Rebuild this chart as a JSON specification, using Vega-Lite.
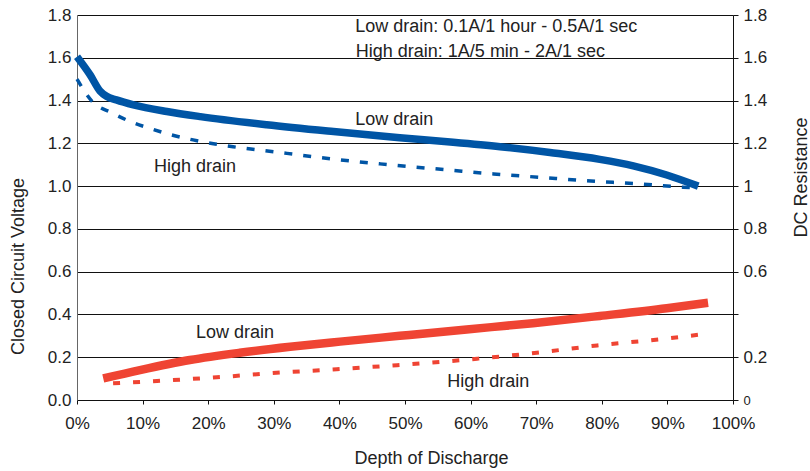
{
  "$schema": "https://vega.github.io/schema/vega-lite/v6.json",
  "width": 656,
  "height": 385,
  "autosize": {"type": "none"},
  "padding": {"left": 77, "top": 15, "right": 77, "bottom": 71},
  "background": "white",
  "config": {
    "font": "Liberation Sans",
    "view": {"stroke": null},
    "axis": {
      "labelFont": "Liberation Sans",
      "titleFont": "Liberation Sans",
      "labelColor": "#222222",
      "titleColor": "#222222",
      "titleFontWeight": "normal",
      "labelFontSize": 17,
      "titleFontSize": 18
    }
  },
  "datasets": {
    "curves": [
      {"series": "ccv_low", "dod": 0, "value": 1.605},
      {"series": "ccv_low", "dod": 2, "value": 1.52},
      {"series": "ccv_low", "dod": 3.5, "value": 1.445},
      {"series": "ccv_low", "dod": 4.5, "value": 1.42},
      {"series": "ccv_low", "dod": 6, "value": 1.403},
      {"series": "ccv_low", "dod": 8.6, "value": 1.38},
      {"series": "ccv_low", "dod": 13.7, "value": 1.349},
      {"series": "ccv_low", "dod": 18.8, "value": 1.325},
      {"series": "ccv_low", "dod": 28.9, "value": 1.287},
      {"series": "ccv_low", "dod": 39.1, "value": 1.255},
      {"series": "ccv_low", "dod": 49.2, "value": 1.226},
      {"series": "ccv_low", "dod": 56.9, "value": 1.206},
      {"series": "ccv_low", "dod": 64.5, "value": 1.184},
      {"series": "ccv_low", "dod": 72.1, "value": 1.157},
      {"series": "ccv_low", "dod": 79.7, "value": 1.125},
      {"series": "ccv_low", "dod": 84.8, "value": 1.095},
      {"series": "ccv_low", "dod": 89.9, "value": 1.052},
      {"series": "ccv_low", "dod": 94.7, "value": 1.0},
      {"series": "ccv_high", "dod": 0, "value": 1.50},
      {"series": "ccv_high", "dod": 2.2, "value": 1.40},
      {"series": "ccv_high", "dod": 5.5, "value": 1.34},
      {"series": "ccv_high", "dod": 8.1, "value": 1.302},
      {"series": "ccv_high", "dod": 11.1, "value": 1.27},
      {"series": "ccv_high", "dod": 14.2, "value": 1.241},
      {"series": "ccv_high", "dod": 17.7, "value": 1.216},
      {"series": "ccv_high", "dod": 20.8, "value": 1.198},
      {"series": "ccv_high", "dod": 23.8, "value": 1.184},
      {"series": "ccv_high", "dod": 27.4, "value": 1.17},
      {"series": "ccv_high", "dod": 32, "value": 1.153},
      {"series": "ccv_high", "dod": 39.1, "value": 1.126},
      {"series": "ccv_high", "dod": 46.2, "value": 1.104},
      {"series": "ccv_high", "dod": 56.4, "value": 1.076},
      {"series": "ccv_high", "dod": 63.5, "value": 1.057},
      {"series": "ccv_high", "dod": 70.6, "value": 1.041},
      {"series": "ccv_high", "dod": 77.7, "value": 1.025},
      {"series": "ccv_high", "dod": 85.8, "value": 1.01},
      {"series": "ccv_high", "dod": 92.4, "value": 0.995},
      {"series": "ccv_high", "dod": 95, "value": 0.99},
      {"series": "res_low", "dod": 4, "value": 0.101},
      {"series": "res_low", "dod": 9.6, "value": 0.14},
      {"series": "res_low", "dod": 17.2, "value": 0.187},
      {"series": "res_low", "dod": 24.8, "value": 0.221},
      {"series": "res_low", "dod": 32.5, "value": 0.249},
      {"series": "res_low", "dod": 40.1, "value": 0.273},
      {"series": "res_low", "dod": 49.2, "value": 0.3},
      {"series": "res_low", "dod": 59.4, "value": 0.33},
      {"series": "res_low", "dod": 69.5, "value": 0.359},
      {"series": "res_low", "dod": 79.7, "value": 0.393},
      {"series": "res_low", "dod": 89.9, "value": 0.429},
      {"series": "res_low", "dod": 96.2, "value": 0.455},
      {"series": "res_high", "dod": 5.5, "value": 0.078},
      {"series": "res_high", "dod": 12.2, "value": 0.089},
      {"series": "res_high", "dod": 21.3, "value": 0.106},
      {"series": "res_high", "dod": 30.4, "value": 0.127},
      {"series": "res_high", "dod": 39.6, "value": 0.144},
      {"series": "res_high", "dod": 48.8, "value": 0.163},
      {"series": "res_high", "dod": 61, "value": 0.193},
      {"series": "res_high", "dod": 70.1, "value": 0.221},
      {"series": "res_high", "dod": 79.3, "value": 0.255},
      {"series": "res_high", "dod": 88.9, "value": 0.284},
      {"series": "res_high", "dod": 95.3, "value": 0.307}
    ],
    "notes": [
      {"label": "Low drain: 0.1A/1 hour - 0.5A/1 sec", "x": 42.4, "y": 1.7205},
      {"label": "High drain: 1A/5 min - 2A/1 sec", "x": 42.5, "y": 1.6036},
      {"label": "Low drain", "x": 42.4, "y": 1.2857},
      {"label": "High drain", "x": 11.74, "y": 1.066},
      {"label": "Low drain", "x": 18.14, "y": 0.2899},
      {"label": "High drain", "x": 56.45, "y": 0.0608}
    ]
  },
  "layer": [
    {
      "data": {"name": "curves"},
      "transform": [{"filter": "datum.series == 'ccv_low'"}],
      "mark": {"type": "line", "interpolate": "monotone", "color": "#0055a5", "strokeWidth": 7.5},
      "encoding": {
        "x": {
          "field": "dod", "type": "quantitative",
          "scale": {"domain": [0, 100], "nice": false},
          "axis": {
            "orient": "bottom",
            "values": [0, 5, 10, 15, 20, 25, 30, 35, 40, 45, 50, 55, 60, 65, 70, 75, 80, 85, 90, 95, 100],
            "labelExpr": "datum.value % 10 == 0 ? datum.value + '%' : ''",
            "labelFlush": false,
            "labelOverlap": false,
            "labelBound": false,
            "grid": false,
            "domainColor": "#111111",
            "tickColor": "#111111",
            "tickSize": 4,
            "labelPadding": 11,
            "title": "Depth of Discharge",
            "titleX": 354,
            "titleY": 63,
            "titleBaseline": "alphabetic"
          }
        },
        "y": {
          "field": "value", "type": "quantitative",
          "scale": {"domain": [0, 1.8], "nice": false, "zero": false},
          "axis": {
            "orient": "left",
            "values": [0, 0.2, 0.4, 0.6, 0.8, 1.0, 1.2, 1.4, 1.6, 1.8],
            "format": ".1f",
            "grid": true,
            "gridColor": "#111111",
            "gridWidth": 1,
            "gridOpacity": 1,
            "ticks": false,
            "tickSize": 0,
            "domainColor": "#666666",
            "labelPadding": 6,
            "labelOverlap": false,
            "labelBound": false,
            "title": "Closed Circuit Voltage",
            "titleAngle": 270,
            "titleX": -54,
            "titleY": 251,
            "titleAlign": "center",
            "titleBaseline": "alphabetic"
          }
        }
      }
    },
    {
      "data": {"name": "curves"},
      "transform": [{"filter": "datum.series == 'ccv_high'"}],
      "mark": {"type": "line", "interpolate": "monotone", "color": "#0055a5", "strokeWidth": 3.5, "strokeDash": [8, 11]},
      "encoding": {
        "x": {"field": "dod", "type": "quantitative"},
        "y": {"field": "value", "type": "quantitative", "axis": null}
      }
    },
    {
      "data": {"name": "curves"},
      "transform": [{"filter": "datum.series == 'res_low'"}],
      "mark": {"type": "line", "interpolate": "monotone", "color": "#ef4433", "strokeWidth": 8.5},
      "encoding": {
        "x": {"field": "dod", "type": "quantitative"},
        "y": {"field": "value", "type": "quantitative", "axis": null}
      }
    },
    {
      "data": {"name": "curves"},
      "transform": [{"filter": "datum.series == 'res_high'"}],
      "mark": {"type": "line", "interpolate": "monotone", "color": "#ef4433", "strokeWidth": 4, "strokeDash": [7, 13]},
      "encoding": {
        "x": {"field": "dod", "type": "quantitative"},
        "y": {"field": "value", "type": "quantitative", "axis": null}
      }
    },
    {
      "data": {"name": "notes"},
      "mark": {"type": "text", "align": "left", "baseline": "alphabetic", "fontSize": 18, "font": "Liberation Sans", "color": "#222222"},
      "encoding": {
        "x": {"field": "x", "type": "quantitative"},
        "y": {
          "field": "y", "type": "quantitative",
          "axis": {
            "orient": "right",
            "values": [0, 0.2, 0.4, 0.6, 0.8, 1.0, 1.2, 1.4, 1.6, 1.8],
            "labelExpr": "datum.value == 0.4 ? '' : (datum.value == 0 ? '0' : format(datum.value, '.1~f'))",
            "labelFontSize": {"condition": {"test": "datum.value == 0", "value": 13}, "value": 17},
            "grid": false,
            "ticks": true,
            "tickSize": 5,
            "tickColor": "#111111",
            "domainColor": "#111111",
            "labelPadding": 5,
            "labelOverlap": false,
            "labelBound": false,
            "title": "DC Resistance",
            "titleAngle": 270,
            "titleX": 73,
            "titleY": 162,
            "titleAlign": "center",
            "titleBaseline": "alphabetic"
          }
        },
        "text": {"field": "label", "type": "nominal"}
      }
    }
  ],
  "resolve": {"axis": {"y": "independent"}}
}
